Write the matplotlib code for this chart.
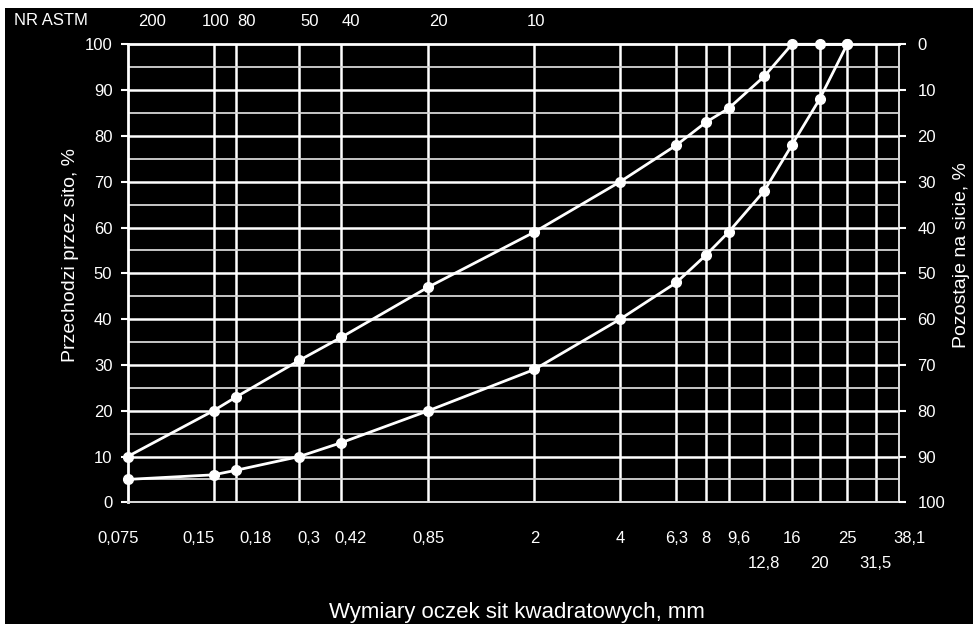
import matplotlib.pyplot as plt
from matplotlib.patches import Rectangle
from matplotlib.ticker import FixedLocator, NullFormatter

plt.rcParams['font.family'] = ['Liberation Sans', 'DejaVu Sans']

# sieve sizes, mm
sieves = [0.075, 0.15, 0.18, 0.3, 0.42, 0.85, 2, 4, 6.3, 8, 9.6, 12.8, 16, 20, 25, 31.5, 38.1]
sieve_labels = ["0,075", "0,15", "0,18", "0,3", "0,42", "0,85", "2", "4", "6,3", "8", "9,6",
                "12,8", "16", "20", "25", "31,5", "38,1"]
# labels on the second row
low_row = ["12,8", "20", "31,5"]

# ASTM numbers on top
astm_sizes = [0.075, 0.15, 0.18, 0.3, 0.42, 0.85, 2]
astm_labels = ["200", "100", "80", "50", "40", "20", "10"]

# grading curves (passing, %)
upper_x = [0.075, 0.15, 0.18, 0.3, 0.42, 0.85, 2, 4, 6.3, 8, 9.6, 12.8, 16, 20, 25]
upper_y = [10, 20, 23, 31, 36, 47, 59, 70, 78, 83, 86, 93, 100, 100, 100]
lower_x = [0.075, 0.15, 0.18, 0.3, 0.42, 0.85, 2, 4, 6.3, 8, 9.6, 12.8, 16, 20, 25]
lower_y = [5, 6, 7, 10, 13, 20, 29, 40, 48, 54, 59, 68, 78, 88, 100]

fig = plt.figure(figsize=(9.73, 6.24), dpi=100, facecolor="white")
fig.patches.append(Rectangle((5 / 973, 0), 1, 1 - 8 / 624, transform=fig.transFigure,
                             facecolor="black", edgecolor="none", zorder=-10))

ax = fig.add_axes([0.1312, 0.195, 0.7931, 0.734])
ax.set_facecolor("black")
ax.set_xscale("log")
ax.set_xlim(sieves[0], sieves[-1])
ax.set_ylim(0, 100)

# grid
for s in sieves[1:-1]:
    ax.axvline(s, color="white", lw=1.8, zorder=1)
for v in range(10, 100, 10):
    ax.axhline(v, color="white", lw=1.8, zorder=1)
for v in range(5, 100, 10):
    ax.axhline(v, color="#d5d5d5", lw=1.3, zorder=1)

ax.plot(upper_x, upper_y, color="white", lw=2, marker="o", ms=7, zorder=3, clip_on=False)
ax.plot(lower_x, lower_y, color="white", lw=2, marker="o", ms=7, zorder=3, clip_on=False)

for side in ["left", "top"]:
    ax.spines[side].set_color("white")
    ax.spines[side].set_linewidth(2)
for side in ["right", "bottom"]:
    ax.spines[side].set_color("#dddddd")
    ax.spines[side].set_linewidth(1.4)

# y ticks
ax.set_yticks(range(0, 101, 10))
ax.tick_params(axis="y", colors="white", labelcolor="white", labelsize=12, length=5, width=1.5, pad=6)
ax.xaxis.set_major_locator(FixedLocator([]))
ax.xaxis.set_minor_locator(FixedLocator([]))
ax.xaxis.set_minor_formatter(NullFormatter())

ax2 = ax.twinx()
ax2.set_ylim(100, 0)
ax2.set_yticks(range(0, 101, 10))
ax2.tick_params(axis="y", colors="white", labelcolor="white", labelsize=12, length=5, width=1.5, pad=8)
for sp in ax2.spines.values():
    sp.set_visible(False)

# bottom sieve labels
for s, lab in zip(sieves, sieve_labels):
    y = -13.3 if lab in low_row else -7.8
    dx = 0
    if lab == "0,075":
        dx = -10
    elif lab == "0,15":
        dx = -15
    elif lab == "0,18":
        dx = 19
    elif lab in ("0,3", "0,42", "9,6", "38,1"):
        dx = 10
    ax.annotate(lab, (s, y), xycoords="data", xytext=(dx * 0.72, 0),
                textcoords="offset points", ha="center", va="center", color="white",
                fontsize=12, annotation_clip=False)

# top ASTM labels
ax.text(-0.147, 1.052, "NR ASTM", transform=ax.transAxes, color="white",
        fontsize=12, ha="left", va="center")
for s, lab in zip(astm_sizes, astm_labels):
    dx = 24 if lab == "200" else (2 if lab in ("100", "10") else 10)
    ax.annotate(lab, (s, 104.9), xycoords="data", xytext=(dx * 0.72, 0),
                textcoords="offset points", ha="center", va="center", color="white",
                fontsize=12, annotation_clip=False)

ax.set_ylabel("Przechodzi przez sito, %", color="white", fontsize=14)
ax.yaxis.set_label_coords(-0.063, 0.54)
ax2.set_ylabel("Pozostaje na sicie, %", color="white", fontsize=14)
ax2.yaxis.set_label_coords(1.0696, 0.54)
fig.text(0.531, 0.019, "Wymiary oczek sit kwadratowych, mm", color="white",
         fontsize=16, ha="center", va="center")

fig.savefig("out.png", dpi=100, facecolor=fig.get_facecolor())
